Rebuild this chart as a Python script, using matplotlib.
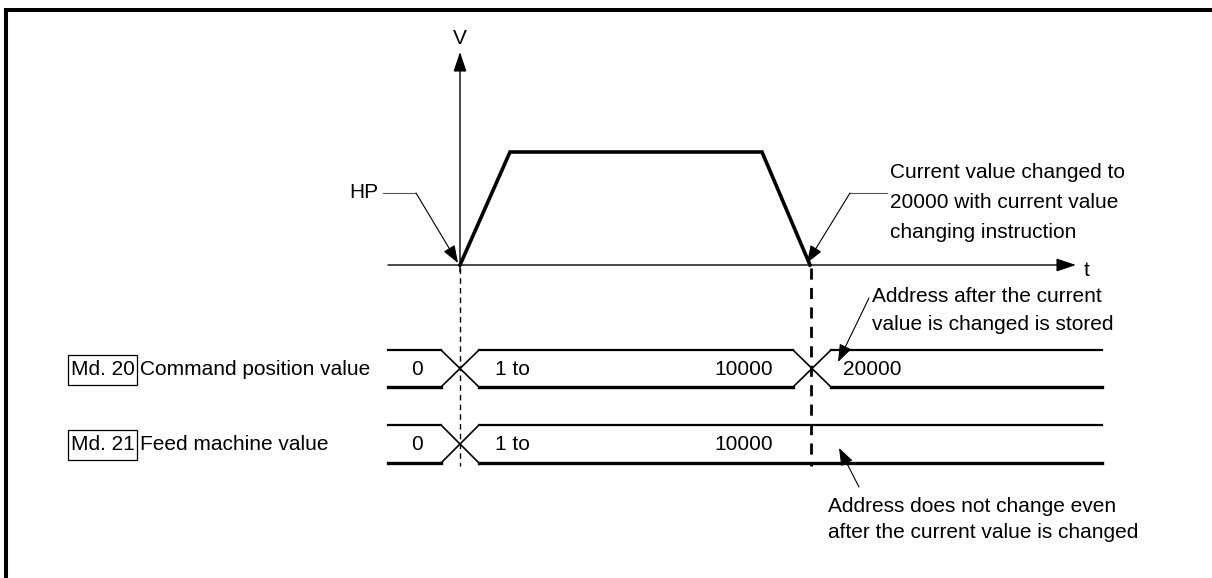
import matplotlib.pyplot as plt
from matplotlib.patches import Rectangle

plt.rcParams['font.family'] = ['Liberation Sans', 'DejaVu Sans']

# velocity profile (pixel coordinates of the drawing)
profile_t = [460, 510, 762, 810]
profile_v = [265, 152, 152, 265]

# timing rows: label, box text, y top, y bottom, change points, values
row_labels = ["Command position value", "Feed machine value"]
row_boxes = ["Md. 20", "Md. 21"]
row_top = [350, 425]
row_bot = [387, 463]
row_changes = [[460, 812], [460]]
row_values = [["0", "1 to", "10000", "20000"], ["0", "1 to", "10000"]]

x_start, x_end = 388, 1102
hw = 19

fig = plt.figure(figsize=(12.12, 5.78), dpi=100)
ax = fig.add_axes([0, 0, 1, 1])
ax.set_xlim(0, 1212)
ax.set_ylim(578, 0)
ax.axis('off')

# frame
ax.plot([5.5, 1212], [9.5, 9.5], color='black', lw=2.9, solid_capstyle='projecting')
ax.plot([5.5, 5.5], [9.5, 578], color='black', lw=2.9)

# axes of the V-t chart
ax.annotate("", xy=(460, 52), xytext=(460, 272),
            arrowprops=dict(arrowstyle='-|>,head_length=0.6,head_width=0.2', lw=1.0,
                            color='black', mutation_scale=20, shrinkA=0, shrinkB=0))
ax.annotate("", xy=(1076, 265), xytext=(388, 265),
            arrowprops=dict(arrowstyle='-|>,head_length=0.6,head_width=0.2', lw=1.0,
                            color='black', mutation_scale=20, shrinkA=0, shrinkB=0))
ax.text(460, 38, "V", fontsize=15, ha='center', va='center')
ax.text(1087, 270, "t", fontsize=15, ha='center', va='center')

ax.plot(profile_t, profile_v, color='black', lw=2.6, solid_joinstyle='miter')

# dashed markers
ax.plot([460, 460], [268, 466], color='black', lw=1.0, dashes=(4, 3))
ax.plot([811, 811], [268, 466], color='black', lw=2.0, dashes=(4, 3))

# timing rows
for i in range(2):
    yt, yb = row_top[i], row_bot[i]
    bounds = [x_start] + row_changes[i] + [x_end]
    for j in range(len(bounds) - 1):
        a, b = bounds[j], bounds[j + 1]
        s = a + hw if j > 0 else a
        e = b - hw if j < len(bounds) - 2 else b
        ax.plot([s, e], [yt, yt], color='black', lw=1.6)
        ax.plot([s, e], [yb, yb], color='black', lw=2.4)
    for c in row_changes[i]:
        ax.plot([c - hw, c + hw], [yt, yb], color='black', lw=1.2)
        ax.plot([c - hw, c + hw], [yb, yt], color='black', lw=1.2)
    ym = (yt + yb) / 2 + 1
    vals = row_values[i]
    ax.text(417, ym, vals[0], fontsize=15, ha='center', va='center')
    ax.text(495, ym, vals[1], fontsize=15, ha='left', va='center')
    ax.text(773, ym, vals[2], fontsize=15, ha='right', va='center')
    if len(vals) > 3:
        ax.text(843, ym, vals[3], fontsize=15, ha='left', va='center')
    # left label with boxed code
    by = (yt + yb) / 2 + 1
    ax.add_patch(Rectangle((68, by - 15), 69, 30, fill=False, lw=0.9, edgecolor='black'))
    ax.text(102.5, by, row_boxes[i], fontsize=15, ha='center', va='center')
    ax.text(140, by, row_labels[i], fontsize=15, ha='left', va='center')

# annotations
leader = dict(arrowstyle='-|>,head_length=0.6,head_width=0.22', lw=0.8, color='black',
              mutation_scale=18, shrinkA=0, shrinkB=0)
ax.text(378, 193, "HP", fontsize=15, ha='right', va='center')
ax.plot([383, 416], [193, 193], color='#555555', lw=0.8)
ax.annotate("", xy=(458, 263), xytext=(416, 193), arrowprops=leader)

ax.text(890, 172, "Current value changed to", fontsize=15, ha='left', va='center')
ax.text(890, 203, "20000 with current value", fontsize=15, ha='left', va='center')
ax.text(890, 233, "changing instruction", fontsize=15, ha='left', va='center')
ax.plot([850, 887], [193, 193], color='#555555', lw=0.8)
ax.annotate("", xy=(807, 263), xytext=(850, 193), arrowprops=leader)

ax.text(872, 296, "Address after the current", fontsize=15, ha='left', va='center')
ax.text(872, 325, "value is changed is stored", fontsize=15, ha='left', va='center')
ax.annotate("", xy=(838, 362), xytext=(869, 298), arrowprops=leader)

ax.text(828, 507, "Address does not change even", fontsize=15, ha='left', va='center')
ax.text(828, 533, "after the current value is changed", fontsize=15, ha='left', va='center')
ax.annotate("", xy=(839, 448), xytext=(859, 487), arrowprops=leader)

fig.savefig("out.png", dpi=100)
